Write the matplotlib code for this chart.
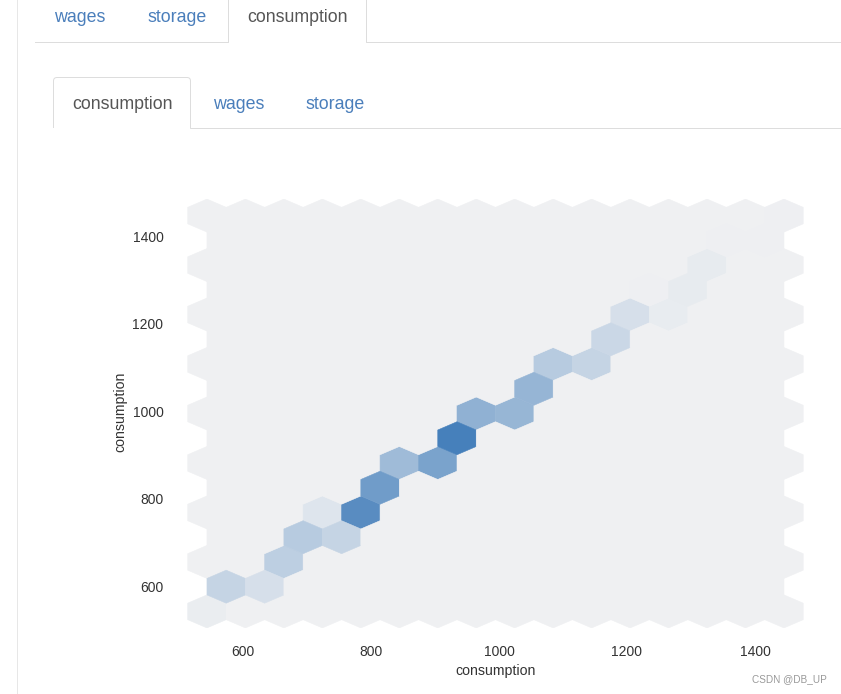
import numpy as np
import matplotlib
matplotlib.use('Agg')
import matplotlib.pyplot as plt
from matplotlib.colors import LinearSegmentedColormap
from matplotlib.patches import PathPatch
from matplotlib.path import Path
from matplotlib.transforms import ScaledTranslation

plt.rcParams['font.family'] = ['Liberation Sans', 'DejaVu Sans']

# bin centres read off the picture, and an estimated count for each one
bin_x = [544, 573, 634, 664, 694, 753, 723, 784, 814, 844, 903, 934, 964, 1025,
         1055, 1084, 1144, 1173, 1205, 1264, 1234, 1295, 1325, 1355, 1416, 1445]
bin_y = [544, 601, 601, 657, 714, 714, 770, 770, 827, 884, 884, 940, 997, 997,
         1053, 1110, 1110, 1166, 1223, 1223, 1280, 1280, 1336, 1393, 1393, 1449]
bin_count = [3, 25, 15, 30, 33, 25, 10, 89, 75, 47, 69, 100, 56, 52,
             53, 33, 25, 22, 15, 4, 1, 5, 5, 1, 1, 1]

ticks = [600, 800, 1000, 1200, 1400]
top_tabs = ['wages', 'storage', 'consumption']
inner_tabs = ['consumption', 'wages', 'storage']

link_color = '#4a7ebb'
active_color = '#555555'
border_color = '#dddddd'

fig = plt.figure(figsize=(8.41, 6.94), dpi=100)

# page chrome in pixel coordinates
page = fig.add_axes([0, 0, 1, 1])
page.set_xlim(0, 841)
page.set_ylim(694, 0)
page.axis('off')

page.plot([17.5, 17.5], [0, 694], color='#e7e7e7', lw=0.72)
page.plot([35, 228.5, 228.5], [41.5, 41.5, 0], color=border_color, lw=0.72)
page.plot([366.5, 366.5, 841], [0, 41.5, 41.5], color=border_color, lw=0.72)
verts = [(53.5, 128), (53.5, 81), (53.5, 77.5), (57, 77.5), (187, 77.5),
         (190.5, 77.5), (190.5, 81), (190.5, 128.5), (841, 128.5)]
codes = [Path.MOVETO, Path.LINETO, Path.CURVE3, Path.CURVE3, Path.LINETO,
         Path.CURVE3, Path.CURVE3, Path.LINETO, Path.LINETO]
page.add_patch(PathPatch(Path(verts, codes), fc='none', ec=border_color, lw=0.72))

for name, x in zip(top_tabs, [54.5, 147.5, 247.5]):
    page.text(x, 17, name, fontsize=12.75, va='center',
              color=active_color if name == 'consumption' else link_color)
for name, x in zip(inner_tabs, [72.5, 213.5, 306]):
    page.text(x, 104, name, fontsize=12.75, va='center',
              color=active_color if name == 'consumption' else link_color)
page.text(827, 679, 'CSDN @DB_UP', fontsize=7.2, color='#999999', ha='right', va='center')

# hexbin panel
ax = fig.add_axes([187 / 841, 1 - 628 / 694, 617 / 841, 429 / 694])
cmap = LinearSegmentedColormap.from_list('hex', ['#eff0f2', '#4680bb'])
x = np.repeat(bin_x, bin_count)
y = np.repeat(bin_y, bin_count)
ax.hexbin(x, y, gridsize=(15, 8), extent=(543.7, 1445.3, 544.2, 1449),
          cmap=cmap, vmin=0, vmax=100, edgecolors='face', linewidths=0.4)
ax.set_xlim(512.5, 1476.6)
ax.set_ylim(506.3, 1486.9)
ax.patch.set_visible(False)
for spine in ax.spines.values():
    spine.set_visible(False)
ax.set_xticks(ticks)
ax.set_yticks(ticks)
ax.tick_params(axis='x', length=0, pad=12, labelsize=10, labelcolor='#333333')
ax.tick_params(axis='y', length=0, pad=17, labelsize=10, labelcolor='#333333')
ax.set_xlabel('consumption', fontsize=10.2, color='#333333', labelpad=3.7)
ax.set_ylabel('consumption', fontsize=10.2, color='#333333', labelpad=3.7)

# y labels sit one pixel higher than the tick positions in the reference
nudge = ScaledTranslation(0, 1 / 100, fig.dpi_scale_trans)
for label in ax.get_yticklabels():
    label.set_transform(label.get_transform() + nudge)
ax.yaxis.label.set_y(0.503)

fig.savefig('out.png', dpi=100)
